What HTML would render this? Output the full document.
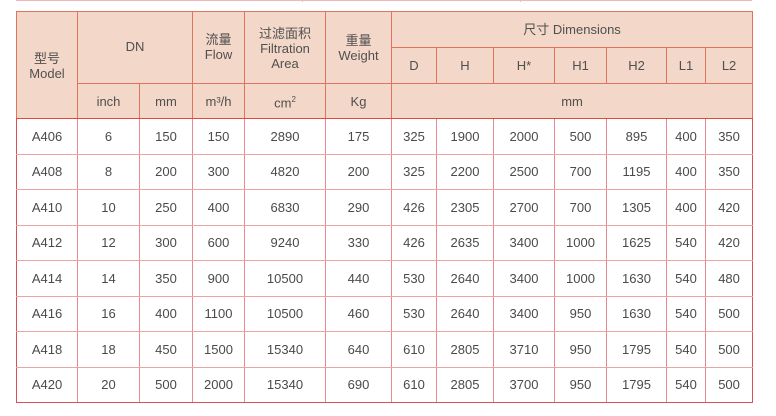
<!DOCTYPE html>
<html><head><meta charset="utf-8"><style>
html,body{margin:0;padding:0;background:#fff;width:776px;height:416px;overflow:hidden}
.top{position:absolute;left:16px;top:0;width:736px;height:1px;background:#f0b8b8}
.topv{position:absolute;left:302px;top:0;width:1px;height:2px;background:#f0b8b8}
.top2{position:absolute;left:520px;top:0;width:1px;height:2px;background:#f0b8b8}
table{position:absolute;left:16px;top:11px;border-collapse:collapse;table-layout:fixed;width:737px;
font-family:"Liberation Sans","Noto Sans CJK SC",sans-serif;font-size:13px;color:#4a4a4a}
td{border:1px solid #eaa3a6;text-align:center;vertical-align:middle;padding:0;line-height:15px}
thead td{background:#f3d7c8;border-color:#e2735f;color:#505050}
thead tr.h3 td, td.m{border-bottom:1px solid #d94c3c}
tbody tr{height:35.5px}
tbody td{border-left-color:#e88a92;border-right-color:#e88a92}
td.l{border-left:1px solid #d9505a}
td.r{border-right:1px solid #d9505a}
tbody tr:last-child td{border-bottom:1px solid #d9505a}
</style></head><body>
<div class="top"></div><div class="topv"></div><div class="top2"></div>
<table>
<colgroup><col style="width:61px"><col style="width:62px"><col style="width:53px"><col style="width:52px"><col style="width:81px"><col style="width:66px"><col style="width:45px"><col style="width:57px"><col style="width:61px"><col style="width:52px"><col style="width:60px"><col style="width:39px"><col style="width:47px"></colgroup>
<thead>
<tr style="height:36px"><td rowspan="3" class="m" style="padding-top:2px">型号<br>Model</td><td colspan="2" rowspan="2" style="vertical-align:top;padding-top:27px">DN</td><td rowspan="2" style="vertical-align:top;padding-top:20px">流量<br>Flow</td><td rowspan="2" style="vertical-align:top;padding-top:14px">过滤面积<br>Filtration<br>Area</td><td rowspan="2" style="vertical-align:top;padding-top:21px">重量<br>Weight</td><td colspan="7">尺寸 Dimensions</td></tr>
<tr style="height:36px"><td>D</td><td>H</td><td>H*</td><td>H1</td><td>H2</td><td>L1</td><td>L2</td></tr>
<tr class="h3" style="height:35px"><td>inch</td><td>mm</td><td>m³/h</td><td>cm<sup style="font-size:8px">2</sup></td><td>Kg</td><td colspan="7">mm</td></tr>
</thead>
<tbody>
<tr><td class="l">A406</td><td>6</td><td>150</td><td>150</td><td>2890</td><td>175</td><td>325</td><td>1900</td><td>2000</td><td>500</td><td>895</td><td>400</td><td class="r">350</td></tr>
<tr><td class="l">A408</td><td>8</td><td>200</td><td>300</td><td>4820</td><td>200</td><td>325</td><td>2200</td><td>2500</td><td>700</td><td>1195</td><td>400</td><td class="r">350</td></tr>
<tr><td class="l">A410</td><td>10</td><td>250</td><td>400</td><td>6830</td><td>290</td><td>426</td><td>2305</td><td>2700</td><td>700</td><td>1305</td><td>400</td><td class="r">420</td></tr>
<tr><td class="l">A412</td><td>12</td><td>300</td><td>600</td><td>9240</td><td>330</td><td>426</td><td>2635</td><td>3400</td><td>1000</td><td>1625</td><td>540</td><td class="r">420</td></tr>
<tr><td class="l">A414</td><td>14</td><td>350</td><td>900</td><td>10500</td><td>440</td><td>530</td><td>2640</td><td>3400</td><td>1000</td><td>1630</td><td>540</td><td class="r">480</td></tr>
<tr><td class="l">A416</td><td>16</td><td>400</td><td>1100</td><td>10500</td><td>460</td><td>530</td><td>2640</td><td>3400</td><td>950</td><td>1630</td><td>540</td><td class="r">500</td></tr>
<tr><td class="l">A418</td><td>18</td><td>450</td><td>1500</td><td>15340</td><td>640</td><td>610</td><td>2805</td><td>3710</td><td>950</td><td>1795</td><td>540</td><td class="r">500</td></tr>
<tr><td class="l">A420</td><td>20</td><td>500</td><td>2000</td><td>15340</td><td>690</td><td>610</td><td>2805</td><td>3700</td><td>950</td><td>1795</td><td>540</td><td class="r">500</td></tr>
</tbody>
</table>
</body></html>
